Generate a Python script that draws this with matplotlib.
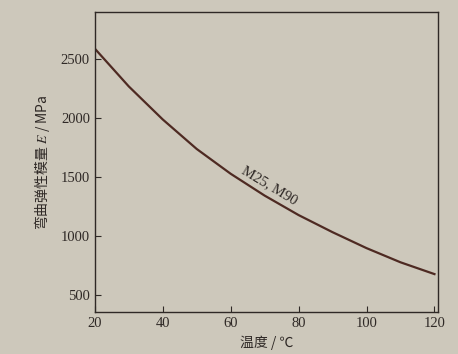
import matplotlib
matplotlib.use("Agg")
import matplotlib.pyplot as plt

# Data
temperature = [20, 30, 40, 50, 60, 70, 80, 90, 100, 110, 120]
modulus = [2590, 2270, 1990, 1740, 1530, 1345, 1180, 1035, 900, 780, 680]
x_ticks = [20, 40, 60, 80, 100, 120]
y_ticks = [500, 1000, 1500, 2000, 2500]
curve_label = "M25, M90"

paper = "#cdc8bb"
ink = "#2f2926"
line_col = "#4e2a22"

plt.rcParams['mathtext.fontset'] = 'stix'
fig = plt.figure(figsize=(4.58, 3.54), dpi=100, facecolor=paper)
ax = fig.add_axes([0.207, 0.119, 0.749, 0.847], facecolor=paper)

ax.plot(temperature, modulus, color=line_col, lw=1.6)

ax.set_xlim(20, 121)
ax.set_ylim(360, 2900)
ax.set_xticks(x_ticks)
ax.set_yticks(y_ticks)
ax.tick_params(direction='in', length=4, width=0.8, colors=ink, labelsize=10.5)
for lab in ax.get_xticklabels() + ax.get_yticklabels():
    lab.set_family('Liberation Serif')
for s in ax.spines.values():
    s.set_color(ink)
    s.set_linewidth(1.0)

ax.set_xlabel("温度 / ℃", family=['Noto Sans CJK SC', 'DejaVu Sans'], fontsize=10, color=ink, labelpad=4)
ax.set_ylabel("弯曲弹性模量 $E$ / MPa", family=['Noto Sans CJK SC', 'DejaVu Sans'], fontsize=10, color=ink, labelpad=6)

ax.text(71.5, 1430, curve_label, rotation=-31, ha='center', va='center',
        family='Liberation Serif', fontsize=10.5, color=ink)

fig.savefig("out.png", dpi=100, facecolor=paper)
